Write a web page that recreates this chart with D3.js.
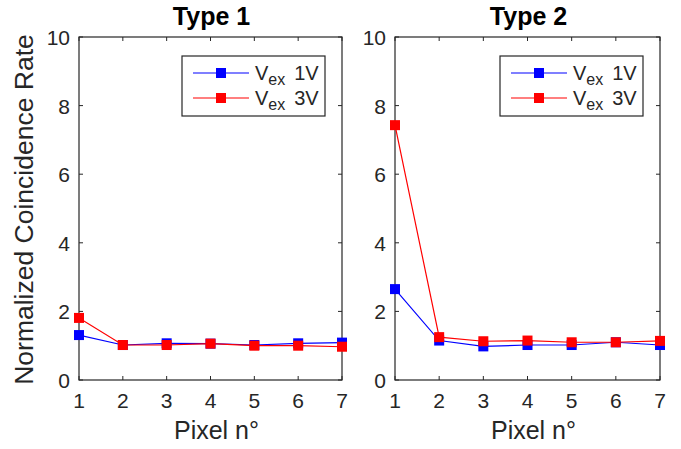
<!DOCTYPE html>
<html>
<head>
<meta charset="utf-8">
<script src="https://cdn.jsdelivr.net/npm/d3@7"></script>
<style>
  body { margin: 0; background: #fff; }
  text { font-family: Arial, "Liberation Sans", sans-serif; fill: #262626; }
</style>
</head>
<body>
<svg id="chart" width="681" height="449"></svg>
<script>
const pixels = [1, 2, 3, 4, 5, 6, 7];
const yTicks = [0, 2, 4, 6, 8, 10];
const titles = ['Type 1', 'Type 2'];
const type1V1 = [1.31, 1.02, 1.07, 1.06, 1.02, 1.07, 1.09];
const type1V3 = [1.81, 1.02, 1.02, 1.06, 1.0, 1.0, 0.97];
const type2V1 = [2.65, 1.15, 0.98, 1.02, 1.02, 1.1, 1.02];
const type2V3 = [7.43, 1.25, 1.13, 1.15, 1.1, 1.1, 1.14];
const seriesNames = ['1V', '3V'];
const seriesColors = ['#0000ff', '#ff0000'];

const panels = [
  { title: titles[0], left: 79, right: 342, data: [type1V1, type1V3] },
  { title: titles[1], left: 395, right: 660, data: [type2V1, type2V3] },
];
const plotTop = 37, plotBottom = 380;

const svg = d3.select('#chart');
const y = d3.scaleLinear().domain([0, 10]).range([plotBottom, plotTop]);

panels.forEach((p) => {
  const x = d3.scaleLinear().domain([1, 7]).range([p.left, p.right]);
  const g = svg.append('g');

  // ticks inside on all sides
  const tl = 4;
  g.selectAll('line.xt')
    .data(pixels)
    .enter()
    .append('line')
    .attr('x1', (d) => x(d)).attr('x2', (d) => x(d))
    .attr('y1', plotBottom).attr('y2', plotBottom - tl)
    .attr('stroke', '#262626');
  g.selectAll('line.xt2')
    .data(pixels)
    .enter()
    .append('line')
    .attr('x1', (d) => x(d)).attr('x2', (d) => x(d))
    .attr('y1', plotTop).attr('y2', plotTop + tl)
    .attr('stroke', '#262626');
  g.selectAll('line.yt')
    .data(yTicks)
    .enter()
    .append('line')
    .attr('x1', p.left).attr('x2', p.left + tl)
    .attr('y1', (d) => y(d)).attr('y2', (d) => y(d))
    .attr('stroke', '#262626');
  g.selectAll('line.yt2')
    .data(yTicks)
    .enter()
    .append('line')
    .attr('x1', p.right).attr('x2', p.right - tl)
    .attr('y1', (d) => y(d)).attr('y2', (d) => y(d))
    .attr('stroke', '#262626');

  g.append('rect')
    .attr('x', p.left).attr('y', plotTop)
    .attr('width', p.right - p.left).attr('height', plotBottom - plotTop)
    .attr('fill', 'none').attr('stroke', '#262626').attr('stroke-width', 1.2);

  // tick labels
  g.selectAll('text.xl')
    .data(pixels)
    .enter()
    .append('text')
    .attr('x', (d) => x(d)).attr('y', 408)
    .attr('text-anchor', 'middle')
    .style('font-size', '21px')
    .text((d) => d);
  g.selectAll('text.yl')
    .data(yTicks)
    .enter()
    .append('text')
    .attr('x', p.left - 9).attr('y', (d) => y(d) + 8)
    .attr('text-anchor', 'end')
    .style('font-size', '21px')
    .text((d) => d);

  g.append('text')
    .attr('x', (p.left + p.right) / 2 + 1).attr('y', 25)
    .attr('text-anchor', 'middle')
    .style('font-size', '25px').style('font-weight', 'bold')
    .style('fill', '#000')
    .text(p.title);

  g.append('text')
    .attr('x', (p.left + p.right) / 2 + 6).attr('y', 439)
    .attr('text-anchor', 'middle')
    .style('font-size', '25px')
    .text('Pixel n°');

  // series
  const line = d3.line().x((d, i) => x(pixels[i])).y((d) => y(d));
  p.data.forEach((vals, si) => {
    g.append('path')
      .datum(vals)
      .attr('d', line)
      .attr('fill', 'none')
      .attr('stroke', seriesColors[si])
      .attr('stroke-width', 1.2);
    g.selectAll('rect.m' + si)
      .data(vals)
      .enter()
      .append('rect')
      .attr('x', (d, i) => x(pixels[i]) - 5)
      .attr('y', (d) => y(d) - 5)
      .attr('width', 10).attr('height', 10)
      .attr('fill', seriesColors[si]);
  });

  // legend
  const lx = p.right - 160, ly = 56;
  const leg = g.append('g').attr('transform', `translate(${lx},${ly})`);
  leg.append('rect')
    .attr('width', 143).attr('height', 60)
    .attr('fill', '#fff').attr('stroke', '#262626').attr('stroke-width', 1.2);
  seriesNames.forEach((name, si) => {
    const ry = 17 + si * 25;
    leg.append('line')
      .attr('x1', 11).attr('x2', 67).attr('y1', ry).attr('y2', ry)
      .attr('stroke', seriesColors[si]).attr('stroke-width', 1.2);
    leg.append('rect')
      .attr('x', 34).attr('y', ry - 5).attr('width', 10).attr('height', 10)
      .attr('fill', seriesColors[si]);
    const t = leg.append('text')
      .attr('x', 73).attr('y', ry + 7)
      .style('font-size', '20px');
    t.append('tspan').text('V');
    t.append('tspan').attr('dy', 5).style('font-size', '16px').text('ex');
    t.append('tspan').attr('dy', -5).attr('dx', 9).text(name);
  });
});

svg.append('text')
  .attr('transform', `translate(33,${(plotTop + plotBottom) / 2 + 1}) rotate(-90)`)
  .attr('text-anchor', 'middle')
  .style('font-size', '26.5px')
  .text('Normalized Coincidence Rate');
</script>
</body>
</html>
